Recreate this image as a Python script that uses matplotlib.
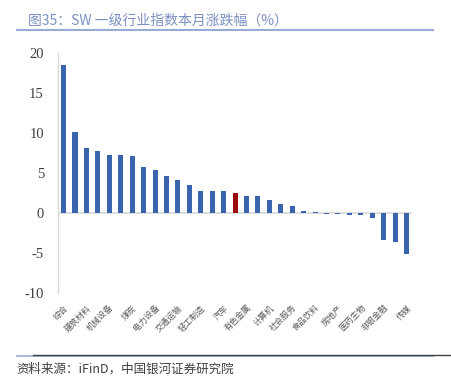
import matplotlib
matplotlib.use("Agg")
import matplotlib.pyplot as plt
import numpy as np

plt.rcParams['font.family'] = ['Noto Sans CJK SC', 'DejaVu Sans']

# industries, sorted by monthly change (only every other one is labelled)
industries = ["综合", "钢铁", "建筑材料", "建筑装饰", "机械设备", "石油石化", "煤炭",
              "基础化工", "电力设备", "环保", "交通运输", "公用事业", "轻工制造",
              "国防军工", "汽车", "银行", "有色金属", "农林牧渔", "计算机", "通信",
              "社会服务", "纺织服饰", "食品饮料", "商贸零售", "房地产", "家用电器",
              "医药生物", "电子", "非银金融", "美容护理", "传媒"]
change = [18.5, 10.1, 8.2, 7.8, 7.3, 7.3, 7.2, 5.8, 5.4, 4.6, 4.2, 3.5, 2.8,
          2.8, 2.75, 2.5, 2.2, 2.1, 1.6, 1.1, 0.9, 0.25, 0.15, -0.05, -0.12,
          -0.2, -0.25, -0.6, -3.4, -3.65, -5.05]
highlight = 15
yticks = [-10, -5, 0, 5, 10, 15, 20]

blue = "#3b64ae"
red = "#9c0c0c"

fig = plt.figure(figsize=(4.52, 3.79), dpi=100)
ax = fig.add_axes([0.128, 0.226, 0.784, 0.634])

x = np.arange(len(industries))
colors = [red if i == highlight else blue for i in x]
ax.bar(x, change, width=0.44, color=colors, zorder=2)
ax.axhline(0, color="#d9d9d9", lw=1.2, zorder=1)

ax.set_xlim(-0.5, len(industries) - 0.5)
ax.set_ylim(-10, 20)
ax.set_yticks(yticks)
ax.set_yticklabels([str(v) for v in yticks], family="Liberation Serif",
                   fontsize=10.5, color="#404040")
ax.tick_params(axis="y", length=0, pad=10)

ax.set_xticks(x[::2])
ax.set_xticklabels(industries[::2], rotation=45, ha="right", va="top",
                   rotation_mode="anchor", fontsize=6, color="#595959")
ax.tick_params(axis="x", length=0, pad=7)

for s in ["top", "right", "bottom"]:
    ax.spines[s].set_visible(False)
ax.spines["left"].set_color("#d9d9d9")
ax.spines["left"].set_linewidth(1.0)

# title and source
fig.text(0.062, 0.945, "图35：SW 一级行业指数本月涨跌幅（%）", fontsize=10,
         color="#7b8fc2", va="center", ha="left")
fig.add_artist(plt.Line2D([0.037, 0.958], [0.921, 0.921], color="#9aaad6",
                          lw=1.5, transform=fig.transFigure))
fig.add_artist(plt.Line2D([0.037, 0.958], [0.061, 0.061], color="#9aaad6",
                          lw=1.2, transform=fig.transFigure))
fig.add_artist(plt.Line2D([0.073, 1.0], [0.064, 0.064], color="#404040",
                          lw=1.0, transform=fig.transFigure))
fig.text(0.037, 0.027, "资料来源：iFinD，中国银河证券研究院", fontsize=9,
         color="#404040", style="italic", va="center", ha="left")

fig.savefig("out.png", dpi=100)
